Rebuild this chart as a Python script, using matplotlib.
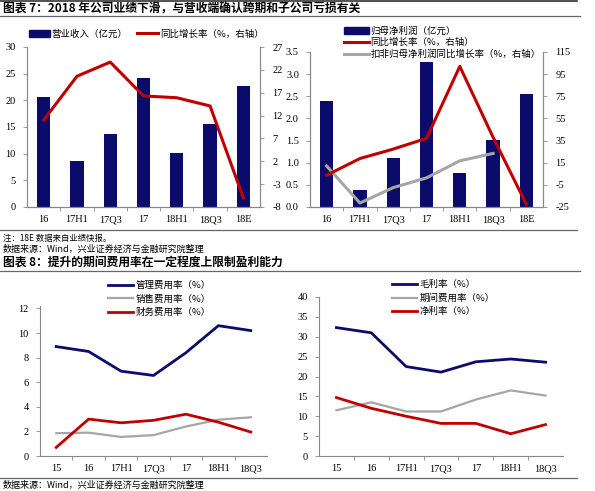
import numpy as np
import matplotlib
matplotlib.use("Agg")
import matplotlib.pyplot as plt
from matplotlib.patches import Patch
from matplotlib.lines import Line2D

plt.rcParams['font.family'] = ['Liberation Serif', 'Noto Sans CJK SC', 'DejaVu Sans']
plt.rcParams['font.size'] = 7.5
plt.rcParams['axes.unicode_minus'] = False

# 图表7 左：营业收入
cats1 = ["16", "17H1", "17Q3", "17", "18H1", "18Q3", "18E"]
revenue = [20.7, 8.7, 13.7, 24.1, 10.1, 15.6, 22.7]
revenue_yoy = [11.0, 20.6, 23.7, 16.3, 15.9, 14.1, -6.0]

# 图表7 右：归母净利润
profit = [2.40, 0.38, 1.11, 3.27, 0.77, 1.51, 2.56]
profit_yoy = [3.7, 18.8, 27.3, 37.0, 102.0, 38.0, -22.6]
profit_ded_yoy = [12.0, -21.4, -7.5, 1.3, 16.7, 23.4]

# 图表8
cats2 = ["15", "16", "17H1", "17Q3", "17", "18H1", "18Q3"]
admin_rate = [8.9, 8.5, 6.9, 6.55, 8.4, 10.6, 10.2]
sales_rate = [1.85, 1.9, 1.55, 1.7, 2.4, 2.95, 3.15]
fin_rate = [0.7, 3.0, 2.7, 2.9, 3.4, 2.75, 1.95]
gross_margin = [32.3, 31.0, 22.5, 21.1, 23.7, 24.4, 23.6]
period_rate = [11.5, 13.5, 11.2, 11.2, 14.2, 16.5, 15.2]
net_margin = [14.7, 12.0, 10.0, 8.2, 8.2, 5.6, 7.9]

NAVY = "#0b0b6b"
RED = "#c00000"
GRAY = "#a6a6a6"
CJK = ['Noto Sans CJK SC', 'DejaVu Sans']
TICK = 7.5
LEG = 6.8

W, H = 595, 491
fig = plt.figure(figsize=(W / 100, H / 100), dpi=100)


def ax_at(l, t, r, b):
    return fig.add_axes([l / W, 1 - b / H, (r - l) / W, (b - t) / H])


def px(x, y):
    return x / W, 1 - y / H


def hline(y, x0, x1, lw=1.0, color="#555555"):
    fig.add_artist(Line2D([x0 / W, x1 / W], [1 - y / H, 1 - y / H], color=color, lw=lw))


def style(ax):
    ax.spines["top"].set_visible(False)
    for s in ["left", "bottom", "right"]:
        ax.spines[s].set_color("#888888")
        ax.spines[s].set_linewidth(0.8)
    ax.tick_params(length=3, width=0.6, color="#888888", labelsize=TICK, pad=4)
    ax.tick_params(axis="y", pad=5)


def cat_axis(ax, cats):
    ax.set_xlim(-0.5, len(cats) - 0.5)
    ax.set_xticks(np.arange(len(cats) - 1) + 0.5)
    ax.set_xticklabels([])
    ax.set_xticks(np.arange(len(cats)), minor=True)
    ax.set_xticklabels(cats, minor=True)
    ax.tick_params(axis="x", which="minor", length=0, pad=6, labelsize=TICK)
    ax.tick_params(axis="x", which="major", length=3)


# ---- titles and separators
hline(1, 0, 577, lw=1.2, color="#333333")
fig.text(*px(3, 9), "图表 7：2018 年公司业绩下滑，与营收端确认跨期和子公司亏损有关",
         family=CJK, fontsize=8.5, fontweight="bold", va="center")
hline(16, 0, 580, lw=0.9, color="#666666")
hline(230, 0, 577, lw=0.9, color="#666666")
fig.text(*px(3, 238), "注：18E 数据来自业绩快报。", family=CJK, fontsize=6, va="center")
fig.text(*px(3, 249), "数据来源：Wind，兴业证券经济与金融研究院整理", family=CJK, fontsize=6.5, va="center")
fig.text(*px(3, 262), "图表 8：提升的期间费用率在一定程度上限制盈利能力",
         family=CJK, fontsize=8.5, fontweight="bold", va="center")
hline(271, 0, 580, lw=0.9, color="#666666")
hline(478, 0, 577, lw=0.9, color="#666666")
fig.text(*px(3, 485), "数据来源：Wind，兴业证券经济与金融研究院整理", family=CJK, fontsize=6.5, va="center")

# ---- panel 1
x = np.arange(len(cats1))
ax1 = ax_at(27, 47, 260, 207)
ax1.bar(x, revenue, width=0.4, color=NAVY)
ax1.set_ylim(0, 30)
ax1.set_yticks(range(0, 31, 5))
cat_axis(ax1, cats1)
style(ax1)
ax1b = ax1.twinx()
ax1b.plot(x, revenue_yoy, color=RED, lw=2.2)
ax1b.set_ylim(-8, 27)
ax1b.set_yticks(range(-8, 28, 5))
style(ax1b)
ax1b.tick_params(axis="y", pad=6)
ax1.legend(handles=[Patch(color=NAVY, label="营业收入（亿元）"),
                    Line2D([], [], color=RED, lw=2.2, label="同比增长率（%，右轴）")],
           loc="center left", bbox_to_anchor=px(29, 34), bbox_transform=fig.transFigure,
           ncol=2, frameon=False, prop={"family": CJK, "size": LEG},
           handlelength=2.2, handleheight=0.7, columnspacing=1.0, handletextpad=0.2,
           borderaxespad=0, borderpad=0)

# ---- panel 2
ax2 = ax_at(310, 52, 543, 207)
ax2.bar(x, profit, width=0.4, color=NAVY)
ax2.set_ylim(0, 3.5)
ax2.set_yticks(np.arange(0, 3.51, 0.5))
ax2.set_yticklabels([f"{v:.1f}" for v in np.arange(0, 3.51, 0.5)])
cat_axis(ax2, cats1)
style(ax2)
ax2b = ax2.twinx()
ax2b.plot(x[:len(profit_ded_yoy)], profit_ded_yoy, color=GRAY, lw=2.2)
ax2b.plot(x, profit_yoy, color=RED, lw=2.2)
ax2b.set_ylim(-25, 115)
ax2b.set_yticks(range(-25, 116, 20))
style(ax2b)
ax2b.tick_params(axis="y", pad=6)
ax2.legend(handles=[Patch(color=NAVY, label="归母净利润（亿元）"),
                    Line2D([], [], color=RED, lw=2.2, label="同比增长率（%，右轴）"),
                    Line2D([], [], color=GRAY, lw=2.2, label="扣非归母净利润同比增长率（%，右轴）")],
           loc="upper left", bbox_to_anchor=px(344, 26), bbox_transform=fig.transFigure,
           frameon=False, prop={"family": CJK, "size": LEG}, labelspacing=0.25,
           handlelength=2.6, handleheight=0.7, handletextpad=0.2,
           borderaxespad=0, borderpad=0)

# ---- panel 3
x2 = np.arange(len(cats2))
ax3 = ax_at(40, 306, 267, 456)
ax3.plot(x2, admin_rate, color=NAVY, lw=2.0, label="管理费用率（%）")
ax3.plot(x2, sales_rate, color=GRAY, lw=1.6, label="销售费用率（%）")
ax3.plot(x2, fin_rate, color=RED, lw=2.0, label="财务费用率（%）")
ax3.set_ylim(0, 12.2)
ax3.set_yticks(range(0, 13, 2))
cat_axis(ax3, cats2)
style(ax3)
ax3.spines["right"].set_visible(False)
ax3.legend(loc="upper left", bbox_to_anchor=px(108, 281), bbox_transform=fig.transFigure,
           frameon=False, prop={"family": CJK, "size": LEG}, labelspacing=0.45,
           handlelength=2.6, handletextpad=0.3, borderaxespad=0, borderpad=0)

# ---- panel 4
ax4 = ax_at(319, 297, 563, 456)
ax4.plot(x2, gross_margin, color=NAVY, lw=2.0, label="毛利率（%）")
ax4.plot(x2, period_rate, color=GRAY, lw=1.6, label="期间费用率（%）")
ax4.plot(x2, net_margin, color=RED, lw=2.0, label="净利率（%）")
ax4.set_ylim(0, 40)
ax4.set_yticks(range(0, 41, 5))
cat_axis(ax4, cats2)
style(ax4)
ax4.spines["right"].set_visible(False)
ax4.legend(loc="upper left", bbox_to_anchor=px(392, 280), bbox_transform=fig.transFigure,
           frameon=False, prop={"family": CJK, "size": LEG}, labelspacing=0.45,
           handlelength=2.6, handletextpad=0.3, borderaxespad=0, borderpad=0)

fig.savefig("out.png", dpi=100)
